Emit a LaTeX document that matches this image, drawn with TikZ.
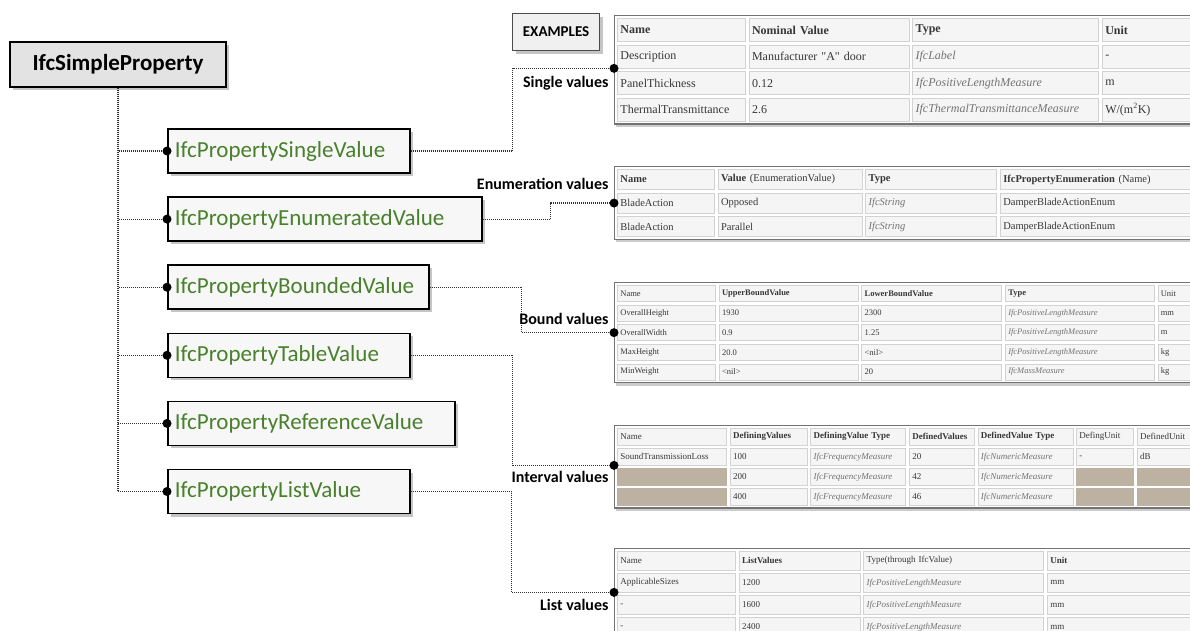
\documentclass[tikz,border=0pt]{standalone}
\usepackage{fontspec}
\setmainfont{Carlito}
\newfontfamily\tabfont{Liberation Serif}
\usetikzlibrary{matrix, positioning, shadows, decorations.markings}
\definecolor{ifcgreen}{RGB}{72,128,44}
\definecolor{tancell}{RGB}{189,178,162}
\definecolor{tabtext}{RGB}{55,55,55}
\newcommand\ty[1]{{\itshape\color{black!55}#1}}

\begin{document}
\begin{tikzpicture}[x=1pt, y=-1pt,
    shade/.style={drop shadow={shadow xshift=3pt, shadow yshift=-3pt, opacity=.45}},
    root/.style={draw, line width=1.6pt, fill=gray!22, minimum width=216pt, minimum height=45pt,
                 font=\bfseries\fontsize{23}{26}\selectfont, shade},
    prop/.style={draw, line width=1.6pt, fill=gray!6, text=ifcgreen, font=\fontsize{23}{26}\selectfont,
                 minimum height=44pt, inner xsep=7pt, text width=#1, align=left, shade},
    exbox/.style={draw=black!70, line width=1.2pt, fill=gray!12, minimum width=87pt, minimum height=37pt,
                  font=\bfseries\fontsize{15}{17}\selectfont, shade},
    conn/.style={draw=black!80, line width=1.2pt, dash pattern=on 1pt off 1pt},
    dot/.style={postaction={decorate, decoration={markings,
                mark=at position 1 with {\fill[black] (0pt,0pt) circle (4.5pt);}}}},
    lbl/.style={font=\bfseries\fontsize{16}{18}\selectfont, anchor=east, xshift=-2pt},
    tbl/.style={matrix of nodes, nodes in empty cells, anchor=north west, draw=black!55, line width=1.3pt,
                fill=white, inner sep=2.5pt, column sep=3pt, row sep=3pt,
                drop shadow={shadow xshift=1.5pt, shadow yshift=-3pt, opacity=.4},
                nodes={draw=gray!35, fill=gray!8, line width=.6pt, inner xsep=3pt, inner ysep=0pt,
                       align=left, anchor=center, text=tabtext}},
    void/.style={fill=tancell, draw=tancell},
]
\useasboundingbox (0,0) rectangle (1190,630);
\fill[white] (0,0) rectangle (1190,630);
\clip (0,0) rectangle (1190,630);

% property tree
\node[root] (simple) at (118,64.5) {IfcSimpleProperty};
\node[prop=228pt, anchor=west] (psingle) at (167,151) {IfcPropertySingleValue};
\node[prop=300pt, below=22.5pt of psingle.south west, anchor=north west] (penum) {IfcPropertyEnumeratedValue};
\node[prop=247pt, below=22.5pt of penum.south west, anchor=north west] (pbound) {IfcPropertyBoundedValue};
\node[prop=228pt, below=22.5pt of pbound.south west, anchor=north west] (ptable) {IfcPropertyTableValue};
\node[prop=273pt, below=22.5pt of ptable.south west, anchor=north west] (pref) {IfcPropertyReferenceValue};
\node[prop=228pt, below=22.5pt of pref.south west, anchor=north west] (plist) {IfcPropertyListValue};

\foreach \b in {psingle, penum, pbound, ptable, pref, plist}
    \draw[conn, dot] (simple.south) |- (\b.west);

\node[exbox, anchor=north west] (examples) at (512,13) {EXAMPLES};

% example tables
\matrix[tbl, nodes={font=\tabfont\fontsize{12}{14}\selectfont, minimum height=23pt},
    column 1/.style={nodes={text width=122pt}}, column 2/.style={nodes={text width=154pt}},
    column 3/.style={nodes={text width=180pt}}, column 4/.style={nodes={text width=93pt}}]
    (tsingle) at (614,15) {
    \textbf{Name} & \textbf{Nominal Value} & \textbf{Type} & \textbf{Unit} \\
    Description & Manufacturer "A" door & \ty{IfcLabel} & - \\
    PanelThickness & 0.12 & \ty{IfcPositiveLengthMeasure} & m \\
    ThermalTransmittance & 2.6 & \ty{IfcThermalTransmittanceMeasure} & W/(m\textsuperscript{2}K) \\
};

\matrix[tbl, nodes={font=\tabfont\fontsize{10.5}{12}\selectfont, minimum height=20pt},
    column 1/.style={nodes={text width=91pt}}, column 2/.style={nodes={text width=138pt}},
    column 3/.style={nodes={text width=125pt}}, column 4/.style={nodes={text width=193pt}}]
    (tenum) at (614,166) {
    \textbf{Name} & \textbf{Value} (EnumerationValue) & \textbf{Type} & \textbf{IfcPropertyEnumeration} (Name) \\
    BladeAction & Opposed & \ty{IfcString} & DamperBladeActionEnum \\
    BladeAction & Parallel & \ty{IfcString} & DamperBladeActionEnum \\
};

\matrix[tbl, nodes={font=\tabfont\fontsize{8.5}{10}\selectfont, minimum height=16pt},
    column 1/.style={nodes={text width=92pt}}, column 2/.style={nodes={text width=133pt}},
    column 3/.style={nodes={text width=134pt}}, column 4/.style={nodes={text width=143pt}},
    column 5/.style={nodes={text width=53pt}}]
    (tbound) at (614,282) {
    Name & \textbf{UpperBoundValue} & \textbf{LowerBoundValue} & \textbf{Type} & Unit \\
    OverallHeight & 1930 & 2300 & \ty{IfcPositiveLengthMeasure} & mm \\
    OverallWidth & 0.9 & 1.25 & \ty{IfcPositiveLengthMeasure} & m \\
    MaxHeight & 20.0 & <nil> & \ty{IfcPositiveLengthMeasure} & kg \\
    MinWeight & <nil> & 20 & \ty{IfcMassMeasure} & kg \\
};

\matrix[tbl, nodes={font=\tabfont\fontsize{9}{10.5}\selectfont, minimum height=16.5pt},
    column 1/.style={nodes={text width=103pt}}, column 2/.style={nodes={text width=71pt}},
    column 3/.style={nodes={text width=89pt}}, column 4/.style={nodes={text width=59pt}},
    column 5/.style={nodes={text width=89pt}}, column 6/.style={nodes={text width=51pt}},
    column 7/.style={nodes={text width=73pt}}]
    (tinterval) at (614,425) {
    Name & \textbf{DefiningValues} & \textbf{DefiningValue Type} & \textbf{DefinedValues} & \textbf{DefinedValue Type} & DefingUnit & DefinedUnit \\
    SoundTransmissionLoss & 100 & \ty{IfcFrequencyMeasure} & 20 & \ty{IfcNumericMeasure} & - & dB \\
    |[void]| & 200 & \ty{IfcFrequencyMeasure} & 42 & \ty{IfcNumericMeasure} & |[void]| & |[void]| \\
    |[void]| & 400 & \ty{IfcFrequencyMeasure} & 46 & \ty{IfcNumericMeasure} & |[void]| & |[void]| \\
};

\matrix[tbl, nodes={font=\tabfont\fontsize{9}{10.5}\selectfont, minimum height=18.5pt},
    column 1/.style={nodes={text width=112pt}}, column 2/.style={nodes={text width=115pt}},
    column 3/.style={nodes={text width=174pt}}, column 4/.style={nodes={text width=153pt}}]
    (tlist) at (614,548) {
    Name & \textbf{ListValues} & Type(through IfcValue) & \textbf{Unit} \\
    ApplicableSizes & 1200 & \ty{IfcPositiveLengthMeasure} & mm \\
    - & 1600 & \ty{IfcPositiveLengthMeasure} & mm \\
    - & 2400 & \ty{IfcPositiveLengthMeasure} & mm \\
};

% links to the examples
\draw[conn, dot] (psingle.east) -- ++(102,0) |- (tsingle-2-1.south -| tsingle.west);
\draw[conn, dot] (penum.east) -- ++(68,0) |- (tenum-2-1 -| tenum.west);
\draw[conn, dot] (pbound.east) -- ++(92,0) |- (tbound-3-1 -| tbound.west);
\draw[conn, dot] (ptable.east) -- ++(102,0) |- (tinterval-2-1.south -| tinterval.west);
\draw[conn, dot] (plist.east) -- ++(101,0) |- (tlist-2-1.south -| tlist.west);

\node[lbl] (lsingle) at (tsingle.west |- tsingle-3-1) {Single values};
\node[lbl, yshift=-4pt] (lenum) at (tenum.west |- tenum-1-1) {Enumeration values};
\node[lbl, yshift=-6pt] (lbound) at (tbound.west |- tbound-2-1) {Bound values};
\node[lbl] (linterval) at (tinterval.west |- tinterval-3-1) {Interval values};
\node[lbl] (llist) at (tlist.west |- tlist-3-1) {List values};
\end{tikzpicture}
\end{document}
